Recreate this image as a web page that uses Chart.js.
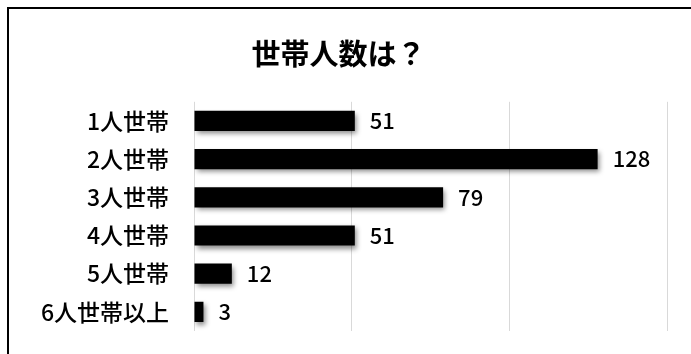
<!DOCTYPE html>
<html>
<head>
<meta charset="utf-8">
<script src="https://cdn.jsdelivr.net/npm/chart.js@4/dist/chart.umd.min.js"></script>
<style>
  html, body { margin: 0; padding: 0; background: #fff; }
  #wrap { position: relative; width: 691px; height: 354px; overflow: hidden; }
  #frame {
    position: absolute; left: 7px; top: 7px; right: 0; bottom: 0;
    border-top: 2px solid #000; border-left: 2px solid #000;
  }
  canvas { position: absolute; left: 0; top: 0; }
</style>
</head>
<body>
<div id="wrap">
  <div id="frame"></div>
  <canvas id="chart" width="691" height="354"></canvas>
</div>
<script>
const titleText = "世帯人数は？";
const categories = ["1人世帯", "2人世帯", "3人世帯", "4人世帯", "5人世帯", "6人世帯以上"];
const households = [51, 128, 79, 51, 12, 3];
const axisMin = 0;
const axisMax = 150;
const axisStep = 50;

const fontFamily = '"Noto Sans CJK JP", "Noto Sans", sans-serif';

// soft shadow under the bars
const barShadow = {
  id: "barShadow",
  beforeDatasetDraw(chart) {
    const ctx = chart.ctx;
    ctx.save();
    ctx.shadowColor = "rgba(0,0,0,0.45)";
    ctx.shadowBlur = 5;
    ctx.shadowOffsetX = 2;
    ctx.shadowOffsetY = 3;
  },
  afterDatasetDraw(chart) {
    chart.ctx.restore();
  },
};

// value labels at the end of each bar
const valueLabels = {
  id: "valueLabels",
  afterDatasetsDraw(chart) {
    const ctx = chart.ctx;
    const meta = chart.getDatasetMeta(0);
    ctx.save();
    ctx.font = "500 22px " + fontFamily;
    ctx.fillStyle = "#000";
    ctx.textAlign = "left";
    ctx.textBaseline = "middle";
    meta.data.forEach((bar, i) => {
      ctx.fillText(String(households[i]), bar.x + 15, bar.y);
    });
    ctx.restore();
  },
};

new Chart(document.getElementById("chart"), {
  type: "bar",
  data: {
    labels: categories,
    datasets: [
      {
        data: households,
        backgroundColor: "#000",
        borderWidth: 0,
        categoryPercentage: 1,
        barPercentage: 0.53,
      },
    ],
  },
  options: {
    indexAxis: "y",
    responsive: false,
    animation: false,
    layout: { padding: { left: 10, right: 24, top: 10, bottom: 23 } },
    plugins: {
      legend: { display: false },
      tooltip: { enabled: false },
      title: {
        display: true,
        text: titleText,
        color: "#000",
        font: { family: fontFamily, size: 29, weight: "bold" },
        padding: { top: 27, bottom: 30 },
      },
    },
    scales: {
      x: {
        min: axisMin,
        max: axisMax,
        ticks: { display: false, stepSize: axisStep },
        grid: { color: "#d9d9d9", lineWidth: 1, drawTicks: false },
        border: { display: false },
      },
      y: {
        grid: { display: false, drawTicks: false },
        border: { display: false },
        ticks: {
          color: "#000",
          padding: 25,
          font: { family: fontFamily, size: 23, weight: "500" },
        },
        afterFit(scale) {
          scale.width = 184;
          // labels sit inside the category bands, no extra room needed
          scale.paddingTop = 0;
          scale.paddingBottom = 0;
        },
      },
    },
  },
  plugins: [barShadow, valueLabels],
});
</script>
</body>
</html>
